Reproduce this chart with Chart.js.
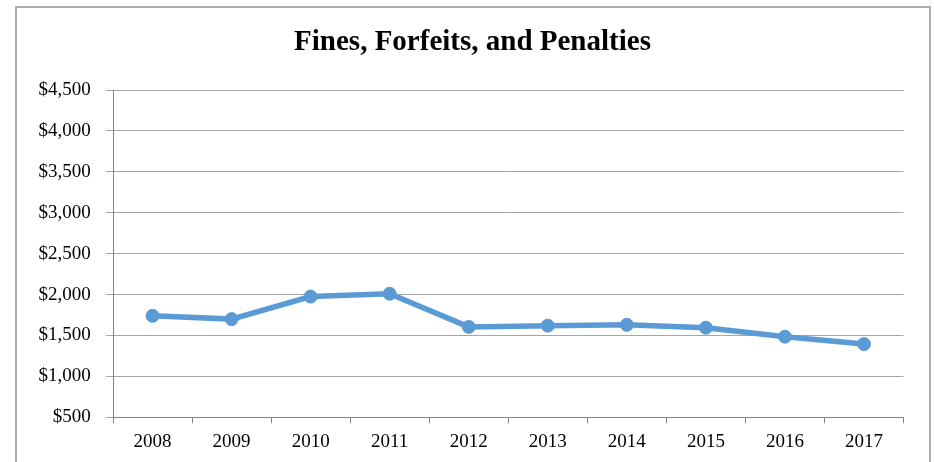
<!DOCTYPE html>
<html>
<head>
<meta charset="utf-8">
<script src="https://cdn.jsdelivr.net/npm/chart.js@4"></script>
<style>
  html, body { margin: 0; padding: 0; background: #fff; }
  #wrap { width: 934px; height: 462px; }
</style>
</head>
<body>
<div id="wrap"><canvas id="chart"></canvas></div>
<script>
const years = ["2008", "2009", "2010", "2011", "2012", "2013", "2014", "2015", "2016", "2017"];
const fines = [1740, 1700, 1975, 2010, 1605, 1620, 1630, 1595, 1485, 1395];
const yTicks = [500, 1000, 1500, 2000, 2500, 3000, 3500, 4000, 4500];

const serif = "'Liberation Serif', 'Times New Roman', serif";

// grey frame round the whole chart, like the spreadsheet chart border
const framePlugin = {
  id: "frame",
  beforeDraw(chart) {
    const ctx = chart.ctx;
    ctx.save();
    ctx.fillStyle = "#fff";
    ctx.fillRect(0, 0, chart.width, chart.height);
    ctx.strokeStyle = "#ababab";
    ctx.lineWidth = 2;
    ctx.strokeRect(16, 7, 914, chart.height + 10);
    ctx.restore();
  },
};

const ctx = document.getElementById("chart").getContext("2d");
new Chart(ctx, {
  type: "line",
  data: {
    labels: years,
    datasets: [
      {
        label: "Fines, Forfeits, and Penalties",
        data: fines,
        borderColor: "#5b9bd5",
        backgroundColor: "#5b9bd5",
        borderWidth: 5.5,
        pointRadius: 6.5,
        pointBorderWidth: 1,
        pointBorderColor: "#5b9bd5",
        pointBackgroundColor: "#5b9bd5",
        tension: 0,
      },
    ],
  },
  options: {
    responsive: true,
    maintainAspectRatio: false,
    animation: false,
    layout: { padding: { left: 15, right: 4, top: 0, bottom: 0 } },
    plugins: {
      legend: { display: false },
      tooltip: { enabled: false },
      title: {
        display: true,
        text: "Fines, Forfeits, and Penalties",
        color: "#000",
        font: { family: serif, size: 29, weight: "bold" },
        padding: { top: 25.6, bottom: 29.6 },
      },
    },
    scales: {
      x: {
        offset: true,
        ticks: {
          color: "#000",
          font: { family: serif, size: 19 },
          padding: 7.5,
          maxRotation: 0,
          autoSkip: false,
        },
        grid: {
          offset: true,
          drawOnChartArea: false,
          drawTicks: true,
          tickLength: 6,
          color: "#868686",
        },
        border: { color: "#868686", width: 1 },
        afterFit(scale) {
          scale.height = 44.7;
          scale.paddingRight = 30.5;
          scale.paddingLeft = 0;
        },
      },
      y: {
        min: 500,
        max: 4500,
        afterBuildTicks(scale) {
          scale.ticks = yTicks.map((v) => ({ value: v }));
        },
        ticks: {
          color: "#000",
          font: { family: serif, size: 19 },
          padding: 15.3,
          callback: (v) => "$" + Number(v).toLocaleString("en-US"),
        },
        grid: {
          color: "#a6a6a6",
          drawTicks: true,
          tickLength: 7,
        },
        border: { color: "#868686", width: 1 },
        afterFit(scale) {
          scale.width = 98;
        },
      },
    },
  },
  plugins: [framePlugin],
});
</script>
</body>
</html>
